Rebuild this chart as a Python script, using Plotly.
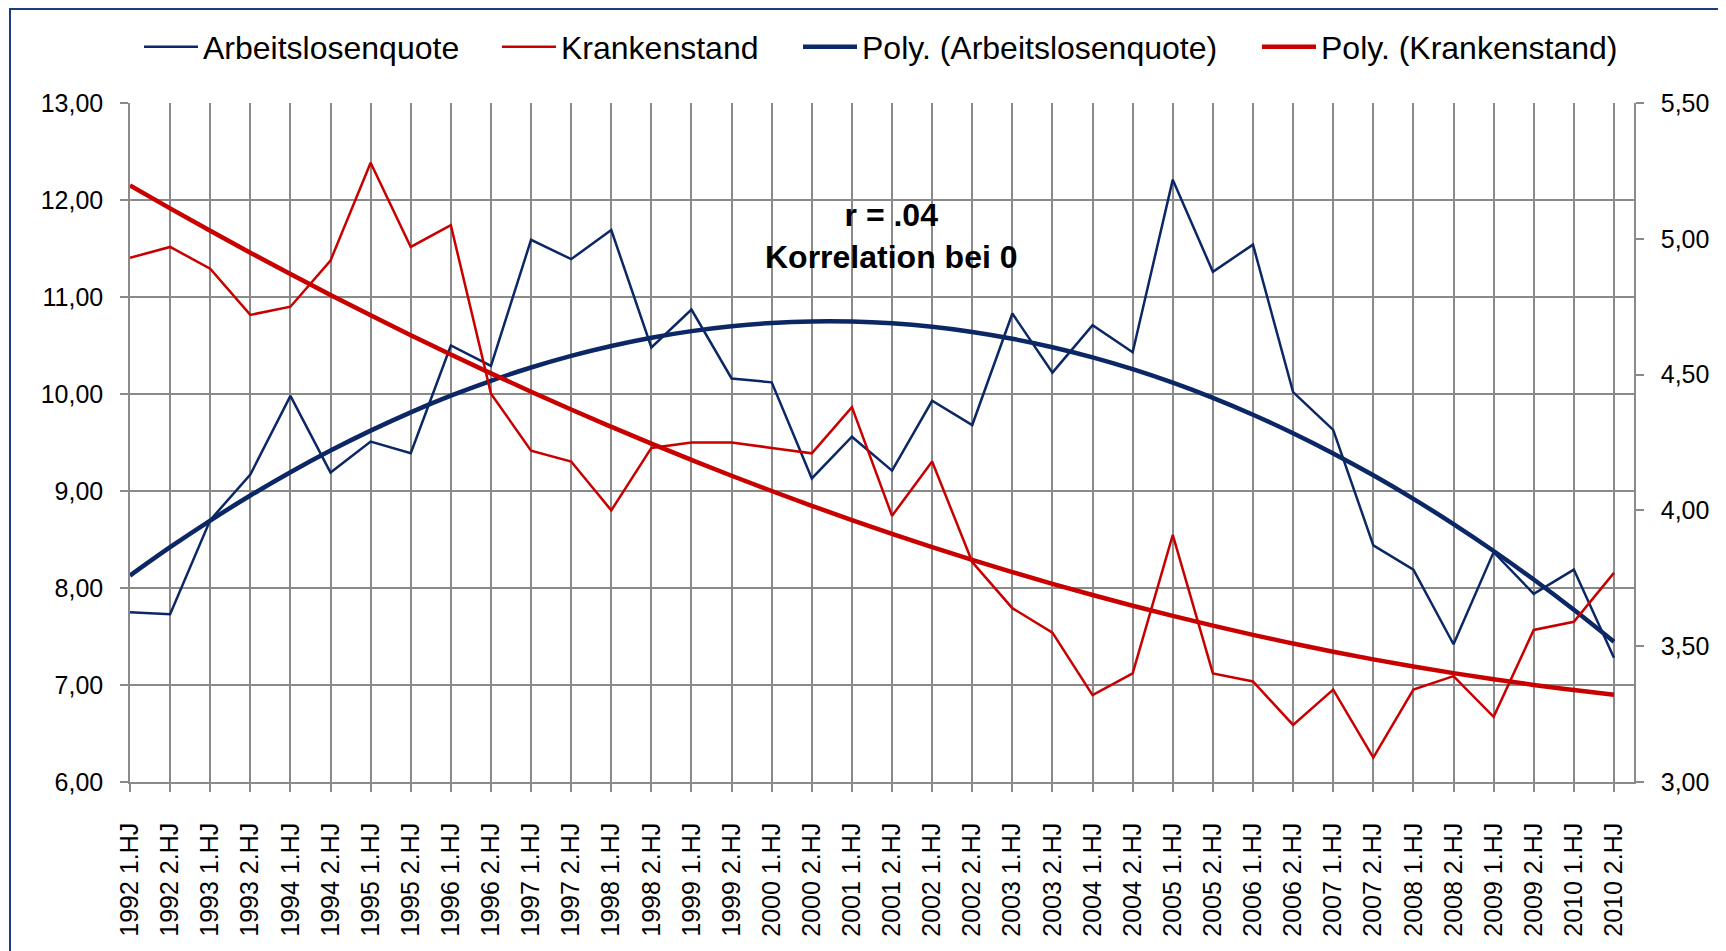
import numpy as np
import plotly.graph_objects as go

# ---- data ----
years = [1992, 1993, 1994, 1995, 1996, 1997, 1998, 1999, 2000, 2001,
         2002, 2003, 2004, 2005, 2006, 2007, 2008, 2009, 2010]
categories = [f"{y} {h}.HJ" for y in years for h in (1, 2)]

arbeitslosenquote = [7.75, 7.73, 8.70, 9.17, 9.98, 9.19, 9.51, 9.39, 10.50, 10.29,
                     11.59, 11.39, 11.69, 10.48, 10.87, 10.16, 10.12, 9.13, 9.56, 9.21,
                     9.93, 9.68, 10.83, 10.22, 10.71, 10.43, 12.21, 11.26, 11.54, 10.02,
                     9.63, 8.44, 8.19, 7.42, 8.37, 7.94, 8.19, 7.28]

krankenstand = [4.93, 4.97, 4.89, 4.72, 4.75, 4.92, 5.28, 4.97, 5.05, 4.43,
                4.22, 4.18, 4.00, 4.23, 4.25, 4.25, 4.23, 4.21, 4.38, 3.98,
                4.18, 3.81, 3.64, 3.55, 3.32, 3.40, 3.91, 3.40, 3.37, 3.21,
                3.34, 3.09, 3.34, 3.39, 3.24, 3.56, 3.59, 3.77]

names = ["Arbeitslosenquote", "Krankenstand",
         "Poly. (Arbeitslosenquote)", "Poly. (Krankenstand)"]

left_ticks = [6, 7, 8, 9, 10, 11, 12, 13]
right_ticks = [3.0, 3.5, 4.0, 4.5, 5.0, 5.5]

# polynomial (order 2) trendlines, as Excel computes them from the data
idx = np.arange(len(categories))
poly_a = np.polyval(np.polyfit(idx, arbeitslosenquote, 2), idx)
poly_k = np.polyval(np.polyfit(idx, krankenstand, 2), idx)

BLUE = "#0B2765"
RED = "#C80000"
GRID = "#8A8A8A"
FONT = "Liberation Sans, Arial, sans-serif"

fig = go.Figure()
fig.add_trace(go.Scatter(x=categories, y=arbeitslosenquote, name=names[0], mode="lines",
                         line=dict(color=BLUE, width=2.5), legend="legend"))
fig.add_trace(go.Scatter(x=categories, y=krankenstand, name=names[1], mode="lines",
                         line=dict(color=RED, width=2.5), yaxis="y2", legend="legend2"))
fig.add_trace(go.Scatter(x=categories, y=poly_a, name=names[2], mode="lines",
                         line=dict(color=BLUE, width=4.5, shape="spline"), legend="legend3"))
fig.add_trace(go.Scatter(x=categories, y=poly_k, name=names[3], mode="lines",
                         line=dict(color=RED, width=4.5, shape="spline"), yaxis="y2",
                         legend="legend4"))

W, H = 1726, 951
OFF = 8  # page offset of the figure inside the browser window
L, R, T, B = 122, 100, 95, 177
pw = W - L - R
ph = H - T - B


def px_x(sx):
    return (sx - OFF - L) / pw


def px_y(sy):
    return (H - B - (sy - OFF)) / ph


leg_common = dict(orientation="h", xanchor="left", yanchor="middle",
                  xref="container", yref="container",
                  font=dict(family=FONT, size=32, color="black"),
                  bgcolor="rgba(0,0,0,0)", itemwidth=54)
leg_y = 1 - 39 / H

axis_common = dict(ticks="outside", ticklen=8, tickcolor=GRID, tickwidth=1.5,
                   showline=True, linecolor=GRID, linewidth=1.5, automargin=False,
                   tickfont=dict(family=FONT, size=25, color="black"))

fig.update_layout(
    width=W, height=H,
    margin=dict(l=L, r=R, t=T, b=B, autoexpand=False),
    paper_bgcolor="white", plot_bgcolor="white",
    separators=",.",
    font=dict(family=FONT, size=25, color="black"),
    showlegend=True,
    legend=dict(x=131 / W, y=leg_y, **leg_common),
    legend2=dict(x=489 / W, y=leg_y, **leg_common),
    legend3=dict(x=790 / W, y=leg_y, **leg_common),
    legend4=dict(x=1249 / W, y=leg_y, **leg_common),
    xaxis=dict(type="category", range=[0, 37.5], tickangle=-90,
               showgrid=True, gridcolor=GRID, gridwidth=1.5,
               ticklabelstandoff=21, **axis_common),
    yaxis=dict(range=[6, 13], tickvals=left_ticks, tickformat=".2f",
               showgrid=True, gridcolor=GRID, gridwidth=1.5, zeroline=False,
               ticklabelstandoff=12, **axis_common),
    yaxis2=dict(range=[3, 5.5], tickvals=right_ticks, tickformat=".2f",
                overlaying="y", side="right", showgrid=False, zeroline=False,
                ticklabelstandoff=12, **axis_common),
    annotations=[dict(text="<b>r = .04<br>Korrelation bei 0</b>",
                      xref="paper", yref="paper", x=px_x(891), y=px_y(236),
                      xanchor="center", yanchor="middle", showarrow=False,
                      font=dict(family=FONT, size=32, color="black"))],
    shapes=[dict(type="rect", xref="paper", yref="paper",
                 x0=px_x(10), y0=px_y(9), x1=px_x(1780), y1=px_y(1000),
                 line=dict(color="#1C3C84", width=2), fillcolor="rgba(0,0,0,0)",
                 layer="above")],
)

fig.write_html("out.html")
